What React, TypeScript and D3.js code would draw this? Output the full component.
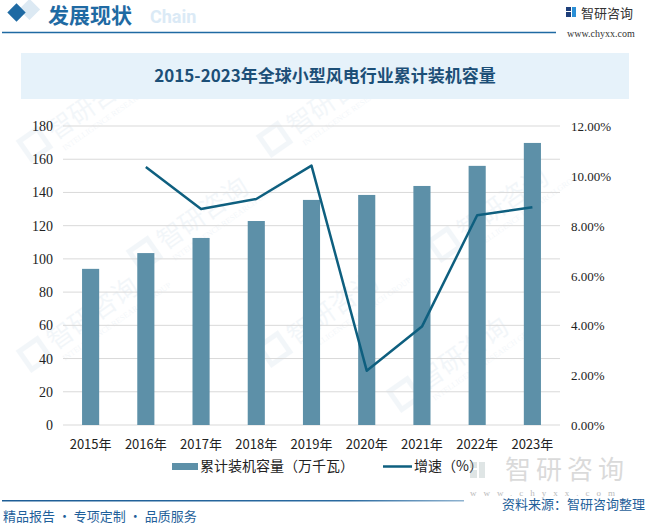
import React from 'react';
import * as d3 from 'd3';

const years = ['2015年', '2016年', '2017年', '2018年', '2019年', '2020年', '2021年', '2022年', '2023年'];
const capacity = [94, 103.5, 112.6, 122.8, 135.5, 138.5, 143.9, 156, 169.8];
const growth = [null, 10.35, 8.67, 9.07, 10.41, 2.18, 3.95, 8.42, 8.74];
const leftTicks = [0, 20, 40, 60, 80, 100, 120, 140, 160, 180];
const rightTicks = [0, 2, 4, 6, 8, 10, 12];

const W = 648, H = 524;
const plot = { left: 63, right: 560, top: 126, bottom: 425 };
const cjk = '"Noto Sans CJK SC", sans-serif';
const serif = '"Liberation Serif", "DejaVu Serif", serif';
const barColor = '#5d90a8';
const lineColor = '#0e5f7f';
const blue = '#1f6aa3';

const App = () => {
    const x = d3.scaleBand().domain(years).range([plot.left, plot.right]).paddingInner(0.69).paddingOuter(0.345);
    const y = d3.scaleLinear().domain([0, 180]).range([plot.bottom, plot.top]);
    const y2 = d3.scaleLinear().domain([0, 12]).range([plot.bottom, plot.top]);
    const cx = (d: string) => (x(d) as number) + x.bandwidth() / 2;

    const linePts = years.map((d, i) => ({ d, v: growth[i] })).filter(p => p.v !== null) as { d: string, v: number }[];
    const line = d3.line<{ d: string, v: number }>().x(p => cx(p.d)).y(p => y2(p.v));

    // faint logo watermarks behind the plot
    const marks = [[60, 130], [300, 125], [60, 340], [300, 335], [470, 230], [170, 240], [430, 380]];

    return (
        <svg width={W} height={H} style={{ position: 'absolute', left: 0, top: 0 }}>
            <defs>
                <linearGradient id="foot" x1="0" x2="1">
                    <stop offset="0" stopColor="#1d5d96" />
                    <stop offset="0.75" stopColor="#2a6aa0" />
                    <stop offset="1" stopColor="#8fb3d0" />
                </linearGradient>
            </defs>
            <rect width={W} height={H} fill="#fff" />

            {marks.map(([mx, my], i) => (
                <g key={i} transform={`translate(${mx},${my}) rotate(-35)`} opacity={0.05}>
                    <rect x={-40} y={-14} width={22} height={22} fill="none" stroke="#1f6aa3" strokeWidth={5} />
                    <text x={-10} y={6} fontFamily={cjk} fontSize={26} fill="#1f6aa3">智研咨询</text>
                    <text x={-8} y={20} fontFamily={serif} fontSize={8} fill="#1f6aa3">INTELLIGENCE RESEARCH GROUP</text>
                </g>
            ))}

            {/* header */}
            <rect x={22} y={2} width={15} height={15} fill="#d3e4f0" transform="rotate(45 29.5 9.5)" opacity={0.8} />
            <rect x={10} y={6} width={13} height={13} fill={blue} transform="rotate(45 16.5 12.5)" />
            <text x={150} y={23} fontFamily="Roboto, sans-serif" fontWeight="bold" fontSize={18} fill="#dbeaf6">Chain</text>
            <text x={48} y={23} fontFamily={cjk} fontWeight="bold" fontSize={21} fill={blue}>发展现状</text>
            <line x1={2} x2={556} y1={32.5} y2={32.5} stroke={blue} strokeWidth={1.5} />
            <g>
                <rect x={566} y={7} width={5} height={4} fill="#1e3f7a" />
                <rect x={566} y={12} width={5} height={5} fill="#1e3f7a" />
                <rect x={572} y={7} width={4} height={10} fill="#2b8fd6" />
                <text x={581} y={18} fontFamily={cjk} fontSize={13} fill="#333">智研咨询</text>
                <text x={567} y={37} fontFamily={serif} fontSize={10} fill="#333">www.chyxx.com</text>
            </g>

            {/* title band */}
            <rect x={21} y={53} width={608} height={46} fill="#e6f2fa" />
            <text x={325} y={82} textAnchor="middle" fontFamily={cjk} fontWeight="bold" fontSize={17} fill="#1c4f77">2015-2023年全球小型风电行业累计装机容量</text>

            {/* grid + axes */}
            {leftTicks.map(t => (
                <line key={t} x1={plot.left} x2={plot.right} y1={y(t)} y2={y(t)} stroke="#d9d9d9" strokeWidth={1} />
            ))}
            {leftTicks.map(t => (
                <text key={t} x={53} y={y(t) + 5} textAnchor="end" fontFamily={serif} fontSize={14} fill="#222">{t}</text>
            ))}
            {rightTicks.map(t => (
                <text key={t} x={571} y={y2(t) + 5} fontFamily={serif} fontSize={13} fill="#222">{d3.format('.2f')(t)}%</text>
            ))}

            {/* bars + line */}
            {years.map((d, i) => (
                <rect key={d} x={x(d)} y={y(capacity[i])} width={x.bandwidth()} height={plot.bottom - y(capacity[i])} fill={barColor} />
            ))}
            <path d={line(linePts) || ''} fill="none" stroke={lineColor} strokeWidth={2.5} strokeLinejoin="round" />

            {years.map(d => (
                <text key={d} x={cx(d)} y={449} textAnchor="middle" fontFamily={cjk} fontSize={13} fill="#222">{d}</text>
            ))}

            {/* legend */}
            <rect x={172} y={463} width={26} height={7} fill={barColor} />
            <text x={200} y={471} fontFamily={cjk} fontSize={14} fill="#222">累计装机容量（万千瓦）</text>
            <line x1={383} x2={412} y1={466.5} y2={466.5} stroke={lineColor} strokeWidth={2.5} />
            <text x={414} y={471} fontFamily={cjk} fontSize={14} fill="#222">增速（%）</text>

            {/* footer */}
            <g opacity={0.3}>
                <rect x={470} y={462} width={7} height={6} fill="#9aa" />
                <rect x={470} y={470} width={7} height={8} fill="#9aa" />
                <rect x={479} y={462} width={6} height={16} fill="#9aa" />
                <text x={505} y={479} fontFamily={cjk} fontSize={26} fill="#888" letterSpacing={5}>智研咨询</text>
            </g>
            <text x={470} y={496} fontFamily={serif} fontSize={9} fill="#bbb" letterSpacing={7}>www.chyxx.com</text>
            <rect x={2} y={500} width={462} height={1.5} fill="url(#foot)" />
            <text x={502} y={509} fontFamily={cjk} fontSize={13} fill="#1f5f9a">资料来源：智研咨询整理</text>
            <text x={3} y={521} fontFamily={cjk} fontSize={13} fill="#1f5f9a">精品报告 · 专项定制 · 品质服务</text>
        </svg>
    );
};

export default App;
